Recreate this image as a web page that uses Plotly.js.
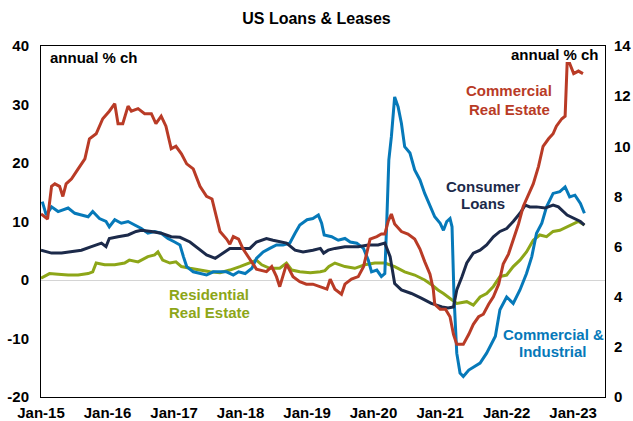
<!DOCTYPE html>
<html><head><meta charset="utf-8">
<script src="https://cdn.plot.ly/plotly-3.0.1.min.js"></script>
<style>html,body{margin:0;padding:0;background:#fff}#chart{width:633px;height:421px}</style>
</head><body><div id="chart"></div>
<script>
// Commercial real estate (right axis), decimal years
const creT = [2015.00,2015.10,2015.16,2015.21,2015.28,2015.33,2015.38,2015.46,2015.56,2015.66,
  2015.73,2015.83,2015.93,2016.03,2016.11,2016.16,2016.23,2016.31,2016.36,2016.46,
  2016.56,2016.66,2016.73,2016.81,2016.88,2016.96,2017.03,2017.11,2017.19,2017.29,
  2017.39,2017.49,2017.57,2017.64,2017.69,2017.79,2017.84,2017.89,2017.97,2018.04,
  2018.14,2018.24,2018.39,2018.47,2018.54,2018.59,2018.69,2018.79,2018.89,2018.99,
  2019.09,2019.20,2019.30,2019.35,2019.42,2019.52,2019.57,2019.67,2019.77,2019.85,
  2019.90,2019.95,2020.05,2020.12,2020.17,2020.22,2020.27,2020.32,2020.42,2020.52,
  2020.62,2020.70,2020.77,2020.85,2020.90,2020.92,2021.00,2021.08,2021.15,2021.20,
  2021.25,2021.35,2021.43,2021.50,2021.58,2021.65,2021.73,2021.80,2021.88,2021.95,
  2022.03,2022.10,2022.18,2022.25,2022.33,2022.40,2022.48,2022.55,2022.63,2022.70,
  2022.75,2022.83,2022.88,2022.91,2022.95,2023.01,2023.08,2023.15];
const creV = [7.3,7.1,8.4,8.5,8.4,8.0,8.5,8.7,9.1,9.5,
  10.3,10.5,11.1,11.4,11.7,10.9,10.9,11.6,11.4,11.5,
  11.3,11.3,10.9,11.2,10.8,9.9,10.0,9.7,9.3,9.1,
  8.4,8.0,7.9,7.2,6.6,6.3,6.1,6.4,6.3,5.9,
  5.5,5.1,5.0,5.2,4.8,4.4,5.3,4.8,4.6,4.5,
  4.5,4.4,4.3,4.7,4.3,4.1,4.5,4.7,4.8,5.2,
  5.7,6.3,6.4,6.5,6.5,7.0,7.3,6.9,6.6,6.5,
  6.3,5.9,5.4,4.9,4.3,3.7,3.5,3.5,3.2,2.5,
  2.1,2.1,2.5,2.9,3.2,3.3,3.7,4.0,4.5,5.3,
  5.7,6.3,6.9,7.6,8.1,8.5,9.2,10.0,10.3,10.5,
  10.8,11.1,11.2,13.3,13.3,12.9,13.0,12.9];

// Commercial & industrial (left axis)
const ciT = [2015.02,2015.08,2015.16,2015.26,2015.41,2015.51,2015.61,2015.71,2015.78,2015.88,
  2015.98,2016.03,2016.11,2016.21,2016.31,2016.41,2016.51,2016.61,2016.71,2016.81,
  2016.91,2017.01,2017.09,2017.14,2017.19,2017.29,2017.39,2017.49,2017.59,2017.69,
  2017.79,2017.89,2017.97,2018.07,2018.17,2018.24,2018.34,2018.44,2018.54,2018.64,
  2018.74,2018.82,2018.89,2019.00,2019.09,2019.17,2019.22,2019.26,2019.37,2019.47,
  2019.57,2019.65,2019.75,2019.85,2019.92,2019.97,2020.05,2020.12,2020.17,2020.20,
  2020.23,2020.27,2020.32,2020.37,2020.42,2020.47,2020.55,2020.62,2020.70,2020.77,
  2020.85,2020.92,2021.00,2021.05,2021.10,2021.15,2021.18,2021.21,2021.25,2021.30,
  2021.35,2021.43,2021.60,2021.70,2021.83,2021.90,2022.00,2022.10,2022.20,2022.30,
  2022.38,2022.45,2022.53,2022.60,2022.70,2022.80,2022.88,2022.95,2023.03,2023.11,
  2023.17];
const ciV = [13.4,11.1,12.5,11.7,12.3,11.4,11.1,10.8,11.7,10.5,
  10.0,9.1,10.3,9.7,10.0,9.4,8.8,8.0,8.3,8.0,
  7.1,6.5,6.0,4.0,2.3,1.4,1.1,0.85,1.4,1.4,
  1.4,0.85,1.4,1.1,2.0,3.7,4.8,5.4,6.0,6.0,
  6.3,8.0,9.4,10.3,10.5,11.1,9.7,7.7,7.4,6.8,
  7.1,6.5,6.3,5.4,3.4,1.4,1.7,0.6,1.1,10.3,
  20.5,24.5,31.3,29.6,26.8,22.8,21.7,18.8,17.1,14.8,
  12.8,10.8,9.7,8.5,10.0,10.5,9.1,-2.9,-12.5,-15.9,
  -16.5,-15.4,-14.2,-12.5,-9.6,-5.1,-2.9,-4.0,-1.7,1.1,
  4.0,8.0,9.7,12.5,14.8,15.1,15.9,14.2,14.5,13.1,
  11.4];

// Consumer loans (left axis)
const conT = [2015.00,2015.16,2015.31,2015.46,2015.61,2015.76,2015.91,2015.98,2016.03,2016.16,
  2016.31,2016.43,2016.51,2016.66,2016.81,2016.96,2017.09,2017.24,2017.39,2017.49,
  2017.62,2017.74,2017.84,2017.99,2018.14,2018.24,2018.39,2018.49,2018.59,2018.69,
  2018.82,2018.94,2019.09,2019.20,2019.25,2019.32,2019.42,2019.57,2019.77,2019.92,
  2020.07,2020.17,2020.25,2020.32,2020.42,2020.57,2020.72,2020.87,2021.03,2021.12,
  2021.20,2021.25,2021.33,2021.40,2021.50,2021.60,2021.70,2021.80,2021.90,2022.00,
  2022.10,2022.20,2022.28,2022.35,2022.45,2022.58,2022.70,2022.78,2022.91,2023.01,
  2023.11,2023.17];
const conV = [5.1,4.6,4.6,4.8,5.1,5.7,6.3,5.7,7.1,7.4,
  7.7,8.3,8.5,8.3,8.0,7.4,7.3,6.5,5.1,4.3,
  3.7,4.6,5.4,5.4,5.4,6.5,7.1,6.8,6.5,6.3,
  5.1,4.8,5.1,5.4,4.6,5.1,5.4,5.7,5.7,6.0,
  6.0,6.3,4.0,-0.6,-1.7,-2.3,-3.1,-4.0,-4.6,-4.8,
  -4.6,-1.7,0.6,2.9,4.6,5.1,6.0,7.4,8.3,8.8,
  10.0,11.4,12.8,12.5,12.5,12.3,12.8,12.5,11.1,10.5,
  10.0,9.4];

// Residential real estate (left axis)
const resT = [2015.00,2015.13,2015.26,2015.41,2015.56,2015.71,2015.78,2015.83,2015.96,2016.11,
  2016.26,2016.33,2016.46,2016.61,2016.71,2016.76,2016.83,2016.94,2017.03,2017.11,
  2017.24,2017.39,2017.54,2017.69,2017.84,2017.99,2018.14,2018.24,2018.32,2018.44,
  2018.59,2018.69,2018.77,2018.89,2019.05,2019.20,2019.27,2019.33,2019.42,2019.57,
  2019.72,2019.87,2020.02,2020.17,2020.32,2020.47,2020.62,2020.77,2020.88,2020.97,
  2021.05,2021.15,2021.25,2021.40,2021.50,2021.60,2021.70,2021.80,2021.90,2022.00,
  2022.10,2022.20,2022.30,2022.40,2022.50,2022.60,2022.70,2022.80,2022.91,2023.01,
  2023.08,2023.17];
const resV = [0.3,1.1,1.0,0.85,0.85,1.1,1.4,2.9,2.6,2.6,
  2.9,3.4,3.1,4.0,4.3,4.8,3.4,2.9,3.1,2.3,
  2.0,1.7,1.4,1.25,1.7,2.3,2.9,3.4,2.6,2.0,
  2.0,2.9,1.7,1.4,1.25,1.4,1.6,2.3,2.9,2.3,
  2.0,2.6,2.9,2.9,2.3,1.4,0.85,0.0,-0.85,-1.7,
  -2.3,-3.1,-4.0,-3.7,-4.3,-2.9,-2.3,-1.1,0.6,0.85,
  2.3,3.4,4.8,6.8,7.7,7.4,8.3,8.5,9.1,9.7,
  10.0,9.4];

const xTickYears = [2015,2016,2017,2018,2019,2020,2021,2022,2023];
const xTickText = ['Jan-15','Jan-16','Jan-17','Jan-18','Jan-19','Jan-20','Jan-21','Jan-22','Jan-23'];
const yLeftTicks = [-20,-10,0,10,20,30,40];
const yLeftText = ['-20','-10','0','10','20','30','40'];
const yRightTicks = [0,2,4,6,8,10,12,14];

function toDate(t){
  const y = Math.floor(t);
  const ms = Date.UTC(y,0,1) + (t - y) * 365.25 * 864e5;
  return new Date(ms).toISOString().slice(0,10);
}
const dates = a => a.map(toDate);
const bold = a => a.map(s => '<b>' + s + '</b>');

const FONT = 'Arial, "Liberation Sans", sans-serif';
const C = {cre:'#B93B26', ci:'#0679B9', con:'#1C2A4A', res:'#8DA618'};

const traces = [
  {x:dates(resT), y:resV, type:'scatter', mode:'lines', line:{color:C.res,width:3}, yaxis:'y'},
  {x:dates(ciT), y:ciV, type:'scatter', mode:'lines', line:{color:C.ci,width:3}, yaxis:'y'},
  {x:dates(conT), y:conV, type:'scatter', mode:'lines', line:{color:C.con,width:3}, yaxis:'y'},
  {x:dates(creT), y:creV, type:'scatter', mode:'lines', line:{color:C.cre,width:3}, yaxis:'y2'}
];

function ann(text, x, y, color, xanchor){
  return {text:'<b>'+text+'</b>', x:x, y:y, xref:'paper', yref:'paper', showarrow:false,
    xanchor:xanchor||'center', yanchor:'middle', font:{family:FONT, size:15, color:color}};
}

const layout = {
  width:633, height:421,
  margin:{l:41, r:28, t:46, b:24},
  paper_bgcolor:'#fff', plot_bgcolor:'#fff',
  showlegend:false,
  font:{family:FONT, size:15, color:'#000'},
  title:{text:'<b>US Loans & Leases</b>', x:0.5, xref:'container', y:0.957, yref:'container',
    yanchor:'middle', font:{family:FONT, size:16, color:'#000'}},
  xaxis:{type:'date', range:[toDate(2015.0), toDate(2023.48)],
    tickvals:xTickYears.map(toDate), ticktext:bold(xTickText),
    showgrid:false, zeroline:false, showline:true, mirror:true, linecolor:'#000', linewidth:1,
    ticks:'', ticklabelstandoff:2, tickfont:{family:FONT, size:15, color:'#000'}},
  yaxis:{range:[-20,40], tickvals:yLeftTicks, ticktext:bold(yLeftText),
    showgrid:false, zeroline:true, zerolinecolor:'#d4d4d4', zerolinewidth:1,
    showline:true, mirror:true, linecolor:'#000', linewidth:1, ticks:'', ticklabelstandoff:8,
    tickfont:{family:FONT, size:15, color:'#000'}},
  yaxis2:{range:[0,14], tickvals:yRightTicks, ticktext:bold(yRightTicks.map(String)),
    overlaying:'y', side:'right', showgrid:false, zeroline:false,
    showline:false, ticks:'', ticklabelstandoff:8,
    tickfont:{family:FONT, size:15, color:'#000'}},
  annotations:[
    ann('annual % ch', 0.012, 0.966, '#000', 'left'),
    ann('annual % ch', 0.993, 0.977, '#000', 'right'),
    ann('Commercial', 0.830, 0.872, C.cre),
    ann('Real Estate', 0.830, 0.820, C.cre),
    ann('Consumer', 0.784, 0.601, C.con),
    ann('Loans', 0.784, 0.550, C.con),
    ann('Residential', 0.298, 0.291, C.res),
    ann('Real Estate', 0.298, 0.242, C.res),
    ann('Commercial &', 0.908, 0.179, C.ci),
    ann('Industrial', 0.908, 0.131, C.ci)
  ]
};

Plotly.newPlot('chart', traces, layout, {displayModeBar:false, staticPlot:true});
</script>
</body></html>
